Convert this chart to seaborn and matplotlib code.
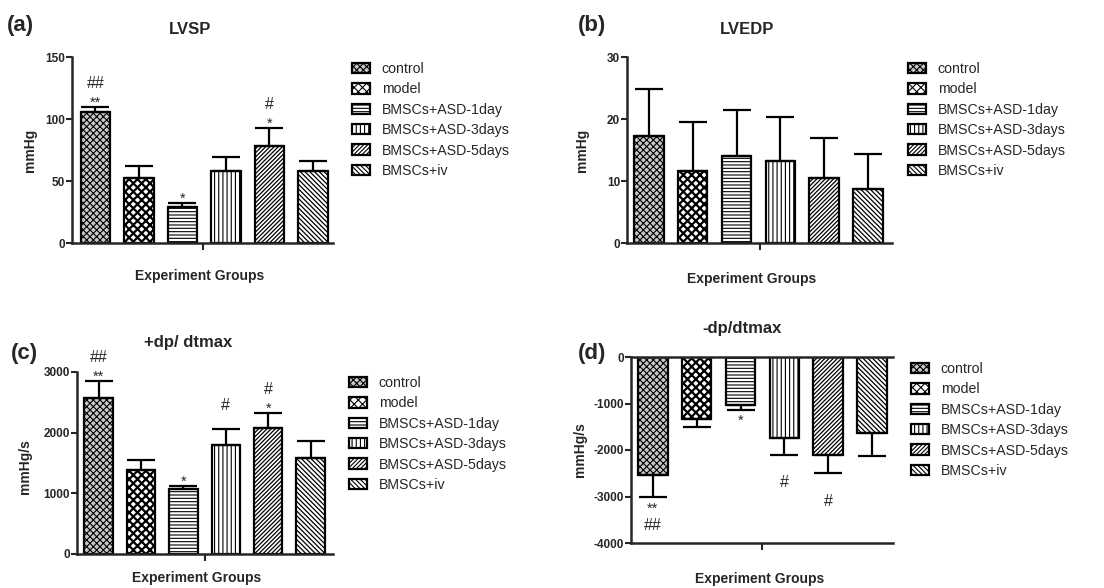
import matplotlib
matplotlib.use("Agg")
import matplotlib.pyplot as plt
import matplotlib.patches as mpatches
import numpy as np
import seaborn as sns

# ---------------- data ----------------
groups = ["control", "model", "BMSCs+ASD-1day", "BMSCs+ASD-3days",
          "BMSCs+ASD-5days", "BMSCs+iv"]

lvsp_mean = [105.4, 52.8, 28.8, 58.0, 78.0, 57.8]
lvsp_err = [4.3, 9.6, 3.2, 11.4, 14.7, 8.6]

lvedp_mean = [17.3, 11.6, 14.0, 13.2, 10.5, 8.7]
lvedp_err = [7.5, 7.9, 7.5, 7.2, 6.4, 5.7]

dpmax_mean = [2573, 1385, 1067, 1801, 2080, 1577]
dpmax_err = [279, 164, 50, 257, 247, 284]

dpmin_mean = [-2536, -1336, -1036, -1750, -2100, -1643]
dpmin_err = [485, 164, 107, 350, 400, 486]

lvsp_marks = [("##", "**"), ("", ""), ("", "*"), ("", ""), ("#", "*"), ("", "")]
lvedp_marks = [("", "")] * 6
dpmax_marks = [("##", "**"), ("", ""), ("", "*"), ("#", ""), ("#", "*"), ("", "")]
dpmin_marks = [("##", "**"), ("", ""), ("", "*"), ("#", ""), ("#", ""), ("", "")]

hatches = ["xxxxx", "xxxx", "-----", "||||", "////////", "\\\\\\\\\\\\\\"]
faces = ["#c8c8c8", "white", "white", "white", "white", "white"]
hatch_lw = [0.8, 1.6, 0.8, 0.8, 0.9, 0.9]

sns.set_style("ticks")
plt.rcParams["font.family"] = ["Liberation Sans", "DejaVu Sans"]
plt.rcParams["hatch.linewidth"] = 0.8
plt.rcParams["hatch.color"] = "black"

W, H = 1104, 588
fig = plt.figure(figsize=(W / 100, H / 100), dpi=100)


def fx(px):
    return px / W


def fy(py):
    return 1 - py / H


def set_hlw(p, lw):
    if hasattr(p, "set_hatch_linewidth"):
        p.set_hatch_linewidth(lw)


def make_panel(rect, means, errs, marks, ylim, yticks, xlim, title, title_xy,
               letter, letter_xy, ylabel, ylabel_xy, xlabel_xy, legend_xy,
               negative=False):
    l, t, r, b = rect
    ax = fig.add_axes([fx(l), fy(b), fx(r - l), (b - t) / H])
    sns.barplot(x=groups, y=means, ax=ax, color="white", edgecolor="black",
                linewidth=1.6, width=0.67, errorbar=None, saturation=1)
    for p, h, fc, hl in zip(ax.patches, hatches, faces, hatch_lw):
        p.set_hatch(h)
        p.set_facecolor(fc)
        p.set_edgecolor("black")
        set_hlw(p, hl)
    xs = np.arange(len(groups))
    if negative:
        yerr = [errs, [0] * len(errs)]
    else:
        yerr = [[0] * len(errs), errs]
    ax.errorbar(xs, means, yerr=yerr, fmt="none", ecolor="black",
                elinewidth=1.6, capsize=10, capthick=1.6, zorder=3)
    ax.set_ylim(*ylim)
    ax.set_xlim(*xlim)
    ax.set_yticks(yticks)
    ax.set_yticklabels([str(v) for v in yticks], fontweight="bold", fontsize=8.5)
    ax.set_xticks([(xlim[0] + xlim[1]) / 2])
    ax.set_xticklabels([""])
    ax.tick_params(axis="both", direction="out", width=1.5, length=4, pad=1)
    ax.tick_params(axis="x", length=5)
    for s in ["left", "bottom"]:
        ax.spines[s].set_linewidth(1.8)
    ax.spines["right"].set_visible(False)
    if negative:
        ax.spines["top"].set_visible(True)
        ax.spines["top"].set_linewidth(1.8)
    else:
        ax.spines["top"].set_visible(False)
    ax.set_xlabel("")
    ax.set_ylabel("")

    # significance marks
    for i, (hs, st) in enumerate(marks):
        tip = means[i] - errs[i] if negative else means[i] + errs[i]
        if st:
            off = -8 if negative else 3
            ax.annotate(st, (xs[i], tip), xytext=(0, off),
                        textcoords="offset points", ha="center", va="center",
                        fontsize=10.5)
        if hs:
            off = -20 if negative else 17
            ax.annotate(hs, (xs[i], tip), xytext=(0, off),
                        textcoords="offset points", ha="center", va="center",
                        fontsize=11.5)

    fig.text(fx(title_xy[0]), fy(title_xy[1]), title, ha="center", va="center",
             fontsize=12, fontweight="bold")
    fig.text(fx(letter_xy[0]), fy(letter_xy[1]), letter, ha="left", va="center",
             fontsize=16, fontweight="bold")
    fig.text(fx(ylabel_xy[0]), fy(ylabel_xy[1]), ylabel, ha="center", va="center",
             rotation=90, fontsize=10, fontweight="bold")
    fig.text(fx(xlabel_xy[0]), fy(xlabel_xy[1]), "Experiment Groups", ha="center",
             va="center", fontsize=10, fontweight="bold")

    handles = []
    for g, h, fc, hl in zip(groups, hatches, faces, hatch_lw):
        hp = mpatches.Patch(facecolor=fc, edgecolor="black", hatch=h,
                            linewidth=1.6, label=g)
        set_hlw(hp, hl)
        handles.append(hp)
    fig.legend(handles=handles, loc="upper left",
               bbox_to_anchor=(fx(legend_xy[0]), fy(legend_xy[1])),
               frameon=False, fontsize=10.2, borderpad=0, borderaxespad=0,
               handlelength=1.3, handleheight=0.75, handletextpad=0.8,
               labelspacing=0.45)
    return ax


make_panel((72, 57, 333, 243), lvsp_mean, lvsp_err, lvsp_marks,
           (0, 150), [0, 50, 100, 150], (-0.54, 5.46),
           "LVSP", (190, 29), "(a)", (7, 26), "mmHg", (30, 150), (200, 276),
           (352, 62))
make_panel((627, 57, 892, 243), lvedp_mean, lvedp_err, lvedp_marks,
           (0, 30), [0, 10, 20, 30], (-0.50, 5.55),
           "LVEDP", (747, 29), "(b)", (578, 26), "mmHg", (582, 150), (752, 279),
           (908, 62))
make_panel((77, 372, 333, 554), dpmax_mean, dpmax_err, dpmax_marks,
           (0, 3000), [0, 1000, 2000, 3000], (-0.51, 5.53),
           "+dp/ dtmax", (188, 343), "(c)", (11, 353), "mmHg/s", (25, 467),
           (197, 578), (349, 376))
make_panel((631, 357, 893, 543), dpmin_mean, dpmin_err, dpmin_marks,
           (-4000, 0), [-4000, -3000, -2000, -1000, 0], (-0.50, 5.48),
           "-dp/dtmax", (742, 329), "(d)", (578, 353), "mmHg/s", (580, 450),
           (760, 579), (911, 362), negative=True)

fig.savefig("out.png", dpi=100)
